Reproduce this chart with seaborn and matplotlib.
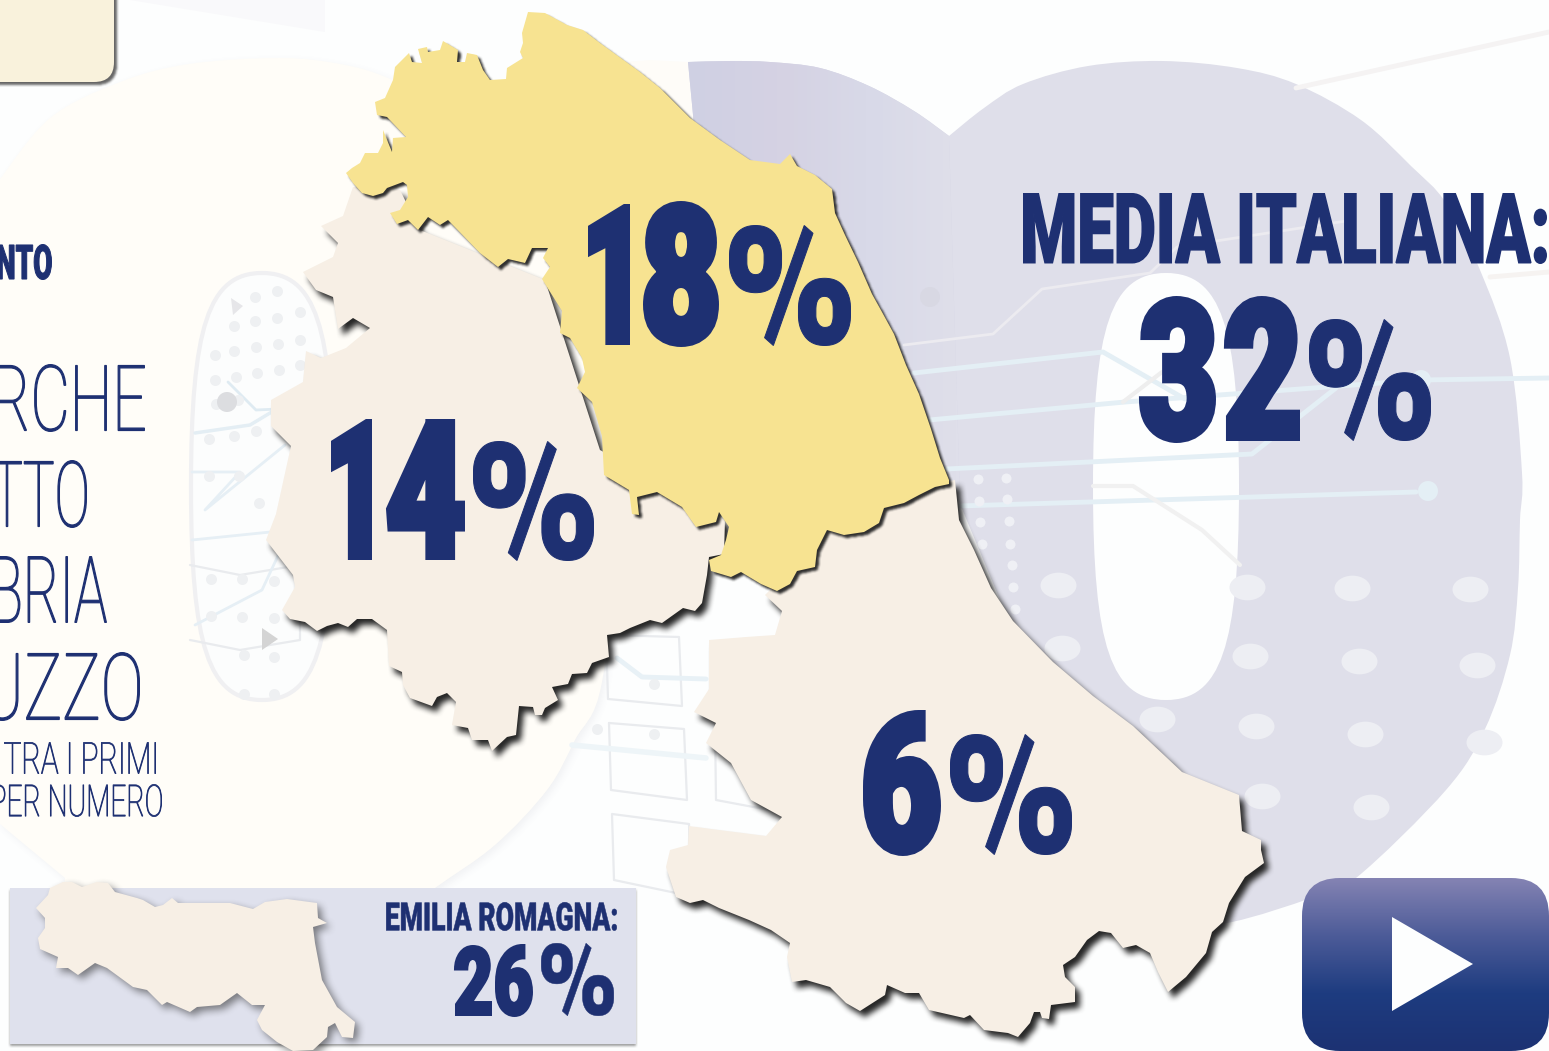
import numpy as np
import seaborn as sns
import matplotlib
matplotlib.use("Agg")
import matplotlib.pyplot as plt
import matplotlib.patheffects as pe
from matplotlib.colors import LinearSegmentedColormap
from matplotlib.font_manager import FontProperties
from matplotlib.patches import FancyBboxPatch, PathPatch, Polygon
from matplotlib.path import Path
from matplotlib.textpath import TextPath
from matplotlib.transforms import Affine2D, Bbox

# region outlines (pixels)
marche = [(528,12),(545,13),(567,25),(583,30),(600,43),(640,72),(660,88),(690,118),(720,140),(750,160),(780,164),(790,154),(797,166),(815,175),(832,189),(835,213),(845,235),(858,262),(872,294),(882,312),(894,334),(906,365),(919,394),(931,429),(940,458),(949,480),(949,484),(935,487),(919,495),(904,503),(884,508),(879,523),(864,532),(844,535),(827,530),(817,550),(815,567),(797,571),(790,584),(777,591),(761,584),(741,572),(731,577),(711,571),(709,560),(721,555),(726,540),(729,527),(719,512),(716,522),(696,527),(682,507),(657,492),(637,497),(639,515),(632,514),(629,490),(604,475),(602,436),(592,402),(577,388),(585,372),(582,358),(570,338),(560,333),(562,311),(542,279),(550,267),(543,258),(548,248),(532,248),(525,263),(508,259),(498,267),(480,253),(448,220),(440,225),(428,217),(418,230),(408,220),(397,224),(390,213),(400,210),(408,197),(407,185),(403,182),(387,188),(383,193),(373,196),(362,193),(353,183),(346,173),(352,168),(360,163),(365,153),(378,153),(383,143),(383,130),(392,152),(393,138),(406,137),(387,117),(377,115),(375,102),(385,98),(393,80),(395,67),(409,53),(412,62),(422,63),(418,49),(427,47),(428,52),(440,50),(443,41),(458,50),(457,62),(465,62),(467,53),(477,55),(483,70),(490,80),(506,79),(507,68),(523,58),(520,52),(523,43),(522,33)]
umbria = [(400,190),(353,187),(343,216),(321,226),(338,243),(333,257),(303,272),(316,290),(333,297),(338,329),(353,318),(370,328),(346,348),(321,358),(306,351),(303,382),(271,400),(271,426),(291,446),(276,514),(266,540),(293,575),(295,587),(282,610),(290,619),(305,622),(317,631),(327,626),(338,623),(348,627),(357,619),(372,619),(387,630),(389,666),(402,672),(403,685),(410,698),(432,706),(437,697),(447,693),(456,702),(452,725),(468,728),(472,740),(488,740),(492,751),(507,737),(516,735),(519,706),(533,707),(535,715),(542,715),(545,708),(558,700),(552,687),(568,684),(572,674),(587,673),(592,663),(609,657),(607,635),(620,633),(630,628),(650,620),(662,623),(683,608),(695,611),(702,603),(707,575),(709,557),(724,554),(725,520),(690,500),(600,450),(545,280),(420,230)]
abruzzo = [(955,480),(959,520),(974,550),(991,588),(1013,621),(1053,662),(1093,696),(1133,726),(1165,756),(1182,772),(1239,795),(1242,831),(1261,840),(1261,850),(1264,863),(1245,877),(1229,903),(1223,922),(1212,932),(1206,953),(1186,977),(1168,992),(1158,972),(1150,953),(1136,945),(1123,948),(1111,933),(1099,931),(1087,940),(1075,957),(1063,965),(1065,977),(1075,987),(1075,1002),(1051,1005),(1049,1019),(1042,1018),(1040,1012),(1034,1012),(1030,1023),(1018,1037),(1008,1033),(984,1030),(970,1015),(964,1018),(929,1010),(919,993),(905,993),(887,985),(885,995),(860,1011),(846,1003),(830,987),(806,980),(792,982),(787,957),(790,943),(771,930),(749,920),(719,908),(703,900),(690,903),(676,897),(666,867),(670,850),(688,845),(689,826),(711,829),(766,836),(782,817),(751,800),(731,763),(706,743),(716,723),(694,712),(709,689),(709,640),(746,637),(775,635),(782,611),(765,595),(790,570),(860,500)]
emilia = [(36,908),(48,895),(50,888),(63,882),(72,882),(82,887),(97,882),(108,883),(115,892),(137,898),(143,900),(155,907),(163,905),(172,898),(178,903),(197,903),(230,903),(253,909),(265,902),(287,899),(317,903),(318,918),(327,923),(313,927),(315,943),(322,980),(337,1007),(355,1022),(353,1038),(342,1037),(335,1023),(328,1027),(327,1037),(313,1050),(293,1051),(277,1042),(262,1030),(257,1020),(265,1005),(252,1005),(237,993),(220,1005),(197,1007),(190,1012),(167,1002),(162,1005),(147,990),(133,987),(107,968),(95,963),(78,975),(68,968),(56,968),(58,957),(40,949),(38,938),(45,928),(45,918)]

# background shapes
cream_edge = [(0,179),(50,118),(120,82),(189,64),(279,58),(340,64),(388,78),(450,110),(560,220),(602,350),(620,500),(602,682),(575,740),(547,790),(495,845),(435,888),(400,915)]
cream_close = [(60,915),(65,878),(0,824),(-60,500)]
cream_lobe = [(600,64),(650,60),(688,62),(694,125),(650,100)]
grey_wedge = [(130,0),(325,0),(325,32)]
lobe_edge = [(688,62),(730,61),(770,62),(820,68),(869,86),(914,111),(949,136)]
lobe_close = [(960,500),(800,250),(720,180),(694,125)]
right_edge = [(949,136),(984,108),(1023,84),(1088,66),(1162,61),(1237,68),(1296,84),(1361,120),(1411,166),(1446,203),(1480,270),(1510,358),(1522,473),(1520,520),(1518,588),(1510,655),(1485,729),(1446,790),(1356,878),(1311,898),(1232,922),(1160,930)]
right_close = [(1000,600),(950,480)]

# circuit lines
line_a_x = [904,993,1042,1150,1177,1346]
line_a_y = [345,334,289,273,247,221]
line_b_x = [914,1103,1185]
line_b_y = [373,352,399]
line_c_x = [929,1125,1421,1549]
line_c_y = [420,402,380,378]
line_d_x = [946,1252,1336]
line_d_y = [469,454,388]
line_e_x = [959,1416]
line_e_y = [506,492]
line_f_x = [1296,1549]
line_f_y = [88,32]
line_g_x = [1123,1162]
line_g_y = [402,372]
line_h_x = [1093,1133,1202,1240]
line_h_y = [486,486,530,565]
line_i_x = [572,706]
line_i_y = [745,758]
line_j_x = [617,642,706]
line_j_y = [658,677,679]
line_k_x = [195,250,275]
line_k_y = [433,425,410]
line_l_x = [228,256,300]
line_l_y = [382,410,408]
line_m_x = [192,240,205,285]
line_m_y = [472,472,510,445]
line_n_x = [192,290,262,195]
line_n_y = [540,530,590,625]
line_o_x = [1490,1549]
line_o_y = [277,272]
rect_lines = [
    ([606,679,682,608,606], [635,637,706,699,635]),
    ([609,684,687,611,609], [723,729,800,790,723]),
    ([691,689,612,614,676], [893,824,814,880,893]),
    ([715,716,780], [725,800,812]),
    ([190,240,300,300,240,190], [565,575,565,640,650,640]),
]

# dots
big_dot_x = [1058,1247,1352,1470,1062,1250,1359,1477,1157,1256,1365,1484,1262,1371]
big_dot_y = [585,587,588,589,648,656,661,665,719,726,734,742,796,807]
small_dot_x = [978,1006,979,1007,980,1009,982,1010,1012,1013,1015]
small_dot_y = [479,478,501,499,522,521,544,544,565,587,609]
hole_dot_x = [255,277,234,255,277,300,234,256,278,300,215,215,236,257,279,300,216,238,209,234,256,209,239,259,211,242,274,211,242,274,244,274,244,274,597,654,654]
hole_dot_y = [297,291,326,321,318,312,351,347,344,340,355,380,377,373,370,365,404,400,439,436,431,476,476,503,579,579,581,616,617,618,655,657,694,694,729,734,684]
node_x = [1421,1428,930,227]
node_y = [380,491,297,402]

# texts with the boxes of their glyphs: (chars, left, right, top, bottom, stroke)
text_18 = [("1",588,630,204,345,7),("8",643,719,201,347,7),("%",729,851,225,346,1)]
text_14 = [("1",331,372,419,560,7),("4",386,465,419,560,7),("%",473,594,441,561,1)]
text_6 = [("6",863,941,710,856,7),("%",950,1072,734,855,1)]
text_32 = [("3",1139,1216,296,443,7),("2",1224,1300,296,441,7),("%",1309,1431,319,441,1)]
text_26 = [("2",454,492,945,1016,3),("6",495,533,944,1017,3),("%",541,614,943,1016,0.5)]
text_media = [("MEDIA ITALIANA:",1023,1547,193,264,1.5)]
text_emilia = [("EMILIA ROMAGNA:",386,617,902,931,0.5)]
text_nto = [("NTO",-3,52,244,280,1)]
text_rche = [("RCHE",-4,145,364,432,1.2)]
text_tto = [("TTO",-8,87,460,528,1.2)]
text_bria = [("BRIA",-6,107,556,623,1.2)]
text_uzzo = [("UZZO",-14,140,652,721,1.2)]
text_primi = [("TRA I PRIMI",4,156,742,774,0.8)]
text_numero = [("PER NUMERO",-8,162,784,817,0.8)]

# where the parts of a percent sign sit in its box: left, right, top, bottom
pct_ring_a = (0.0, 0.43, 0.0, 0.56)
pct_slash = (0.29, 0.69, 0.0, 1.0)
pct_ring_b = (0.57, 1.0, 0.44, 1.0)

NAVY = "#1e3072"
WIDTH, HEIGHT = 1549, 1051

sns.set_theme(style="white")
fig = plt.figure(figsize=(15.49, 10.51), dpi=100, facecolor="#fdfefe")
ax = fig.add_axes([0, 0, 1, 1])
ax.set_facecolor("#fdfefe")
ax.set_xlim(0, WIDTH)
ax.set_ylim(HEIGHT, 0)


def narrow_percent(path):
    # the reference's percent is tall with a steep slash, move the parts of the glyph
    ext = path.get_extents()
    polys = path.to_polygons()
    slash = [p for p in polys if len(p) <= 6]
    rings = [p for p in polys if len(p) > 6]
    mid = (ext.x0 + ext.x1) / 2
    groups = [([p for p in rings if p[:, 0].mean() < mid], pct_ring_a),
              (slash, pct_slash),
              ([p for p in rings if p[:, 0].mean() >= mid], pct_ring_b)]
    out = []
    for group, (l, r, t, b) in groups:
        pts = np.vstack(group)
        gx0, gy0 = pts.min(axis=0)
        gx1, gy1 = pts.max(axis=0)
        for p in group:
            q = np.column_stack([
                ext.x0 + ext.width * (l + (p[:, 0] - gx0) / (gx1 - gx0) * (r - l)),
                ext.y1 - ext.height * (b - (p[:, 1] - gy0) / (gy1 - gy0) * (b - t)),
            ])
            out.append(Path(q, closed=True))
    return Path.make_compound_path(*out)


class FitGlyphs(pe.AbstractPathEffect):
    # no condensed font installed: draws the glyphs of the text into their boxes
    def __init__(self, pieces, fp):
        super().__init__()
        self.pieces = pieces
        self.fp = fp

    def draw_path(self, renderer, gc, tpath, affine, rgbFace=None):
        for chars, x0, x1, top, bottom, grow in self.pieces:
            path = TextPath((0, 0), chars, size=1000, prop=self.fp)
            if chars == "%":
                path = narrow_percent(path)
            ext = path.get_extents()
            sx = (x1 - x0 - grow) / ext.width
            sy = (bottom - top - grow) / ext.height
            tr = Affine2D().translate(-ext.x0, -ext.y0).scale(sx, -sy).translate(x0 + grow / 2, bottom - grow / 2)
            gc0 = renderer.new_gc()
            gc0.copy_properties(gc)
            gc0.set_linewidth(grow * 0.72)
            gc0.set_foreground(rgbFace)
            gc0.set_joinstyle("miter")
            renderer.draw_path(gc0, path, tr + ax.transData, rgbFace)
            gc0.restore()


def put_text(pieces, family="Roboto", weight="black", z=20):
    s = "".join(p[0] for p in pieces)
    left = min(p[1] for p in pieces)
    right = max(p[2] for p in pieces)
    top = min(p[3] for p in pieces)
    bottom = max(p[4] for p in pieces)
    fp = FontProperties(family=family, weight=weight)
    t = ax.text(left, bottom, s, color=NAVY, fontproperties=fp, fontsize=(bottom - top) * 0.95,
                ha="left", va="baseline", zorder=z, path_effects=[FitGlyphs(pieces, fp)])
    # the real extent is the boxes, not the natural width of the font
    t.get_window_extent = lambda *a, **k: Bbox(ax.transData.transform([(left, bottom), (right, top)]))
    return t


def box_blur(a, r):
    k = np.ones(2 * r + 1) / (2 * r + 1)
    a = np.apply_along_axis(lambda m: np.convolve(m, k, mode="same"), 0, a)
    return np.apply_along_axis(lambda m: np.convolve(m, k, mode="same"), 1, a)


def shadow(path, dx, dy, r, strength, z, color=(0.15, 0.15, 0.15)):
    # soft drop shadow, a blurred mask of the shape
    b = path.get_extents()
    pad = 3 * r + 3
    x0, x1 = int(b.x0 - pad), int(b.x1 + pad)
    y0, y1 = int(b.y0 - pad), int(b.y1 + pad)
    sx, sy = np.meshgrid(np.arange(x0, x1) + 0.5, np.arange(y0, y1) + 0.5)
    mask = path.contains_points(np.column_stack([sx.ravel(), sy.ravel()])).reshape(sx.shape).astype(float)
    blur = box_blur(box_blur(mask, r), r)
    rgba = np.zeros(mask.shape + (4,))
    rgba[..., :3] = color
    rgba[..., 3] = np.clip(blur * strength, 0, 1)
    ax.imshow(rgba, extent=(x0 + dx, x1 + dx, y1 + dy, y0 + dy), aspect="auto", zorder=z, interpolation="bilinear")


def region(points, color, z, dx, dy, r, strength):
    shadow(Path(points + [points[0]]), dx, dy, r, strength, z)
    ax.add_patch(Polygon(points, closed=True, fc=color, ec="none", zorder=z + 0.1))


def oval(cx, top, bottom, hw, bulge=0.75):
    mid = (top + bottom) / 2
    h = (bottom - top) / 2
    verts = [(cx, top), (cx + hw * bulge, top), (cx + hw, mid - h * bulge), (cx + hw, mid),
             (cx + hw, mid + h * bulge), (cx + hw * bulge, bottom), (cx, bottom),
             (cx - hw * bulge, bottom), (cx - hw, mid + h * bulge), (cx - hw, mid),
             (cx - hw, mid - h * bulge), (cx - hw * bulge, top), (cx, top)]
    codes = [Path.MOVETO] + [Path.CURVE4] * 12
    return Path(verts, codes)


def smooth(edge, close):
    # rounded outline through the traced points, straight back behind the maps
    pts = np.array(edge, float)
    verts = [pts[0]]
    codes = [Path.MOVETO]
    for i in range(len(pts) - 1):
        p0 = pts[max(i - 1, 0)]
        p3 = pts[min(i + 2, len(pts) - 1)]
        verts += [pts[i] + (pts[i + 1] - p0) / 6, pts[i + 1] - (p3 - pts[i]) / 6, pts[i + 1]]
        codes += [Path.CURVE4] * 3
    for c in close:
        verts.append(np.array(c, float))
        codes.append(Path.LINETO)
    verts.append(pts[0])
    codes.append(Path.CLOSEPOLY)
    return Path(verts, codes)


def draw_line(x, y, color, lw, z=3):
    sns.lineplot(x=x, y=y, sort=False, estimator=None, color=color, lw=lw, ax=ax, zorder=z,
                 solid_capstyle="round", legend=False)


# background
ax.add_patch(Polygon(grey_wedge, fc="#f9f9fb", ec="none", zorder=0))
ax.add_patch(Polygon(cream_lobe, fc="#fefcf8", ec="none", zorder=0))
cream_path = smooth(cream_edge, cream_close)
shadow(cream_path, 3, 3, 4, 0.08, 0.9, color=(0.4, 0.4, 0.5))
ax.add_patch(PathPatch(cream_path, fc="#fffdf8", ec="none", zorder=1))
ax.add_patch(PathPatch(smooth(right_edge, right_close), fc="#dfdfea", ec="none", zorder=1))
lobe = PathPatch(smooth(lobe_edge, lobe_close), fc="#d8d8e7", ec="none", zorder=1)
ax.add_patch(lobe)
band = LinearSegmentedColormap.from_list("band", ["#cfd0e3", "#d5d2e3", "#d8d9e8", "#dfdfea"])
im = ax.imshow(np.linspace(0, 1, 64).reshape(1, -1), extent=(688, 960, 500, 50), aspect="auto", cmap=band, zorder=1.1)
im.set_clip_path(lobe)
ax.add_patch(PathPatch(oval(1166, 273, 700, 73), fc="#fdfefe", ec="none", zorder=1.5))
ax.add_patch(PathPatch(oval(262, 273, 700, 71), fc="#fcfdfd", ec="#f0f0f2", lw=3, zorder=1.5))

# circuit pattern
draw_line(line_a_x, line_a_y, "#ecebf0", 2)
draw_line(line_b_x, line_b_y, "#e4eff5", 3.5)
draw_line(line_c_x, line_c_y, "#e4eff5", 3.5)
draw_line(line_d_x, line_d_y, "#e4eff5", 3.5)
draw_line(line_e_x, line_e_y, "#e4eff5", 3.5)
draw_line(line_f_x, line_f_y, "#f5f3f3", 3.5)
draw_line(line_g_x, line_g_y, "#eeeeee", 3)
draw_line(line_h_x, line_h_y, "#f1f1f1", 3)
draw_line(line_i_x, line_i_y, "#eef5f8", 4)
draw_line(line_j_x, line_j_y, "#e8f1f6", 3.5)
draw_line(line_k_x, line_k_y, "#e4eef4", 2.5)
draw_line(line_l_x, line_l_y, "#dfebf2", 2)
draw_line(line_m_x, line_m_y, "#e6eff5", 2)
draw_line(line_n_x, line_n_y, "#e6eff5", 2)
draw_line(line_o_x, line_o_y, "#f6f3f1", 3.5)
for rx, ry in rect_lines:
    draw_line(rx, ry, "#e9ebee", 1.6, z=2)

ellipse = Path.unit_circle().transformed(Affine2D().scale(1.4, 1))
sns.scatterplot(x=big_dot_x, y=big_dot_y, s=(36 * 0.72) ** 2, color="#edeef3", marker=ellipse, linewidth=0, ax=ax, zorder=3, legend=False)
sns.scatterplot(x=small_dot_x, y=small_dot_y, s=(10 * 0.72) ** 2, color="#eff0f5", linewidth=0, ax=ax, zorder=3, legend=False)
sns.scatterplot(x=hole_dot_x, y=hole_dot_y, s=(11 * 0.72) ** 2, color="#eef0f2", linewidth=0, ax=ax, zorder=3, legend=False)
sns.scatterplot(x=node_x, y=node_y, s=(20 * 0.72) ** 2, c=["#e4eff5", "#e4eff5", "#d8d8e3", "#dcdde0"], linewidth=0, ax=ax, zorder=3, legend=False)

# little triangles in the pattern
ax.add_patch(Polygon([(231, 298), (243, 306), (233, 315)], fc="#e6e6e9", ec="none", zorder=3))
ax.add_patch(Polygon([(262, 628), (278, 639), (262, 650)], fc="#d4d4d4", ec="none", zorder=3))

# top-left tab
tab = FancyBboxPatch((-40, -30), 154, 112, boxstyle="round,pad=0,rounding_size=20", fc="#f9f2dc", ec="none", zorder=5)
ax.add_patch(tab)
shadow(tab.get_path(), 3, 3, 1, 0.7, 4.9)

# regions
region(umbria, "#f7efe5", 8, 5, 6, 3, 1.0)
region(abruzzo, "#f7efe5", 8, 5, 6, 3, 1.0)
region(marche, "#f7e391", 10, 3, 3, 1, 0.95)

# Emilia Romagna card
card = [(10, 888), (636, 888), (636, 1044), (10, 1044)]
shadow(Path(card + [card[0]]), 0, 2, 1, 0.45, 11)
ax.add_patch(Polygon(card, fc="#dfe1ed", ec="none", zorder=11.5))
region(emilia, "#f7efe5", 12, 4, 4, 4, 0.55)

# play button
btn = FancyBboxPatch((1302, 878), 247, 173, boxstyle="round,pad=0,rounding_size=38", fc="none", ec="none", zorder=13)
ax.add_patch(btn)
ramp = LinearSegmentedColormap.from_list("ramp", ["#8483b3", "#4c5b98", "#1e3c80", "#1c3273"])
im2 = ax.imshow(np.linspace(0, 1, 128).reshape(-1, 1), extent=(1302, 1549, 1051, 878), aspect="auto", cmap=ramp, zorder=13)
im2.set_clip_path(btn)
ax.add_patch(Polygon([(1392, 917), (1473, 964), (1392, 1011)], fc="#fdfefe", ec="none", zorder=14))

# numbers
put_text(text_18)
put_text(text_14)
put_text(text_6)
put_text(text_32)
put_text(text_26)
put_text(text_media)
put_text(text_emilia)
put_text(text_nto)

# cut off on the left, as in the picture
for pieces in (text_rche, text_tto, text_bria, text_uzzo, text_primi, text_numero):
    put_text(pieces, weight="light")

ax.set_xlim(0, WIDTH)
ax.set_ylim(HEIGHT, 0)
ax.axis("off")
fig.savefig("out.png", dpi=100, facecolor=fig.get_facecolor())
